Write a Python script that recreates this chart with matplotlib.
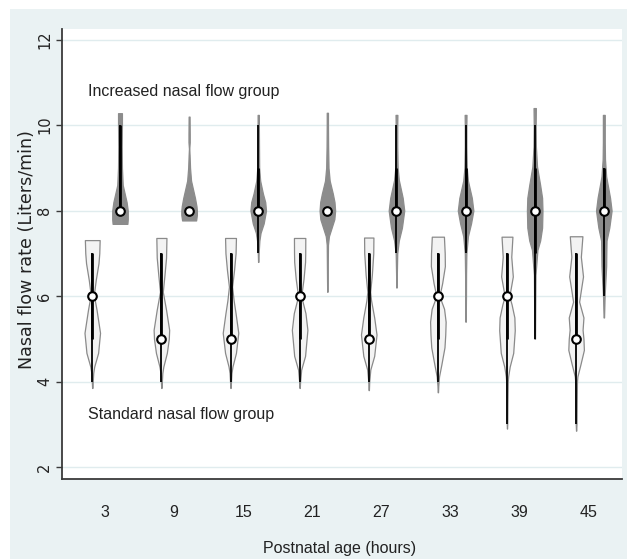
import matplotlib
matplotlib.use("Agg")
import matplotlib.pyplot as plt
from matplotlib import font_manager as fm
from matplotlib.patches import Rectangle

# ---------------- data ----------------
ages = [3, 9, 15, 21, 27, 33, 39, 45]

# Standard nasal flow group: density profiles (y level -> relative width)
std_coords = [
    [3.85, 4.0, 4.2, 4.35, 4.67, 5.14, 5.68, 6.03, 6.38, 6.77, 7.0, 7.31],
    [3.85, 4.0, 4.2, 4.35, 4.67, 5.0, 5.21, 5.68, 6.1, 6.5, 6.9, 7.36],
    [3.85, 4.0, 4.2, 4.35, 4.67, 5.14, 5.6, 5.9, 6.22, 6.6, 7.0, 7.36],
    [3.85, 4.0, 4.28, 4.6, 5.21, 5.6, 6.0, 6.4, 6.8, 7.0, 7.36],
    [3.8, 4.0, 4.28, 4.6, 5.1, 5.5, 5.9, 6.1, 6.5, 7.0, 7.37],
    [3.75, 3.9, 4.12, 4.4, 4.8, 5.1, 5.4, 5.7, 6.0, 6.3, 6.7, 7.0, 7.39],
    [2.9, 3.05, 3.5, 4.0, 4.12, 4.35, 4.67, 5.2, 5.5, 5.8, 6.0, 6.2, 6.46, 6.92, 7.39],
    [2.85, 3.03, 3.5, 4.0, 4.12, 4.4, 4.74, 5.0, 5.21, 5.5, 5.87, 6.2, 6.46, 6.92, 7.4],
]
std_dens = [
    [0.02, 0.06, 0.12, 0.25, 0.75, 1.0, 0.55, 0.2, 0.45, 0.8, 0.9, 0.95],
    [0.02, 0.06, 0.12, 0.25, 0.7, 0.95, 1.0, 0.6, 0.18, 0.4, 0.6, 0.65],
    [0.02, 0.06, 0.12, 0.25, 0.7, 1.0, 0.65, 0.4, 0.2, 0.45, 0.65, 0.7],
    [0.02, 0.06, 0.2, 0.7, 1.0, 0.75, 0.2, 0.5, 0.7, 0.72, 0.73],
    [0.02, 0.06, 0.2, 0.7, 1.0, 0.7, 0.3, 0.18, 0.4, 0.58, 0.6],
    [0.02, 0.05, 0.15, 0.45, 0.85, 0.95, 1.0, 0.8, 0.2, 0.55, 0.9, 0.88, 0.78],
    [0.01, 0.04, 0.06, 0.1, 0.15, 0.35, 0.8, 1.0, 0.95, 0.6, 0.3, 0.5, 0.75, 0.55, 0.7],
    [0.01, 0.05, 0.07, 0.1, 0.15, 0.5, 0.9, 0.85, 0.75, 0.85, 0.35, 0.6, 0.8, 0.55, 0.73],
]
std_median = [6, 5, 5, 6, 5, 6, 6, 5]
std_q1 = [5, 5, 5, 5, 5, 5, 5, 5]
std_q3 = [7, 7, 7, 7, 7, 7, 7, 7]
std_wlo = [4, 4, 4, 4, 4, 4, 3, 3]
std_whi = [7, 7, 7, 7, 7, 7, 7, 7]

# Increased nasal flow group
inc_coords = [
    [7.69, 7.8, 8.0, 8.2, 8.4, 8.6, 9.0, 9.5, 10.0, 10.28],
    [7.77, 7.9, 8.0, 8.1, 8.3, 8.5, 8.7, 9.0, 9.3, 9.45, 9.6, 9.8, 10.2],
    [6.8, 7.0, 7.3, 7.48, 7.7, 8.0, 8.2, 8.4, 8.7, 9.0, 9.5, 10.0, 10.24],
    [6.1, 6.4, 6.8, 7.2, 7.4, 7.6, 7.8, 8.0, 8.2, 8.4, 8.7, 9.0, 9.5, 10.0, 10.29],
    [6.2, 6.54, 7.0, 7.3, 7.6, 8.0, 8.3, 8.72, 9.0, 9.5, 9.96, 10.24],
    [5.4, 6.0, 6.5, 7.0, 7.4, 7.7, 8.0, 8.3, 8.7, 9.0, 9.5, 10.0, 10.24],
    [5.0, 5.5, 6.0, 6.5, 7.08, 7.3, 7.6, 8.0, 8.3, 8.6, 9.03, 9.5, 9.98, 10.4],
    [5.5, 6.0, 6.7, 7.0, 7.3, 7.6, 8.0, 8.3, 8.8, 9.2, 9.6, 10.0, 10.24],
]
inc_dens = [
    [0.95, 1.0, 1.0, 0.85, 0.6, 0.35, 0.25, 0.22, 0.25, 0.25],
    [0.9, 1.0, 1.0, 0.95, 0.75, 0.5, 0.25, 0.12, 0.06, 0.02, 0.08, 0.08, 0.06],
    [0.02, 0.05, 0.15, 0.3, 0.7, 1.0, 0.9, 0.6, 0.25, 0.12, 0.1, 0.08, 0.08],
    [0.02, 0.04, 0.06, 0.08, 0.2, 0.55, 0.9, 1.0, 0.92, 0.7, 0.3, 0.15, 0.1, 0.08, 0.08],
    [0.02, 0.05, 0.1, 0.3, 0.7, 1.0, 0.8, 0.3, 0.15, 0.1, 0.1, 0.12],
    [0.02, 0.05, 0.06, 0.1, 0.3, 0.7, 1.0, 0.8, 0.3, 0.15, 0.1, 0.1, 0.12],
    [0.04, 0.06, 0.08, 0.1, 0.35, 0.7, 0.95, 1.0, 0.95, 0.7, 0.3, 0.15, 0.12, 0.15],
    [0.03, 0.1, 0.3, 0.32, 0.35, 0.7, 1.0, 0.8, 0.3, 0.15, 0.12, 0.12, 0.12],
]
inc_median = [8, 8, 8, 8, 8, 8, 8, 8]
inc_q1 = [8, 8, 8, 8, 8, 8, 7, 8]
inc_q3 = [10, 8, 9, 8, 9, 9, 9, 9]
inc_wlo = [8, 8, 7, 8, 7, 7, 5, 6]
inc_whi = [10, 8, 10, 8, 10, 10, 10, 9]

group_labels = ["Increased nasal flow group", "Standard nasal flow group"]
xlabel = "Postnatal age (hours)"
ylabel = "Nasal flow rate (Liters/min)"
yticks = [2, 4, 6, 8, 10, 12]

# ---------------- fonts ----------------
names = {f.name for f in fm.fontManager.ttflist}
if "Liberation Sans Narrow" in names:
    hfont, hsize = "Liberation Sans Narrow", 14
else:
    hfont, hsize = "Liberation Sans", 11.5
vfont = "DejaVu Sans"

# ---------------- figure ----------------
W, H = 627, 559
fig = plt.figure(figsize=(W / 100, H / 100), dpi=100)
fig.patch.set_facecolor("white")
fig.add_artist(Rectangle((10 / W, 0), 1 - 10 / W, 1 - 9 / H, transform=fig.transFigure,
                         facecolor="#EAF2F3", edgecolor="none", zorder=-10))

ax = fig.add_axes([62 / W, 80 / H, 560 / W, 450 / H])
ax.set_facecolor("white")
ax.set_xlim(-0.622, 7.48)
ax.set_ylim(1.72, 12.25)

pos = list(range(len(ages)))
std_pos = [p - 0.184 for p in pos]
inc_pos = [p + 0.217 for p in pos]


def stats(coords, dens, med, lo, hi):
    out = []
    for c, d, m, l, h in zip(coords, dens, med, lo, hi):
        out.append(dict(coords=c, vals=d, mean=m, median=m, min=l, max=h,
                        quantiles=[]))
    return out


def draw(coords, dens, med, q1, q3, lo, hi, positions, face, edge):
    vs = stats(coords, dens, med, lo, hi)
    parts = ax.violin(vs, positions=positions, widths=0.225, showmeans=False,
                      showextrema=False, showmedians=False)
    for b in parts["bodies"]:
        b.set_facecolor(face)
        b.set_edgecolor(edge)
        b.set_linewidth(0.9)
        b.set_alpha(1)
        b.set_zorder(2)
    ax.vlines(positions, lo, hi, color="black", lw=1.3, zorder=3)
    ax.vlines(positions, q1, q3, color="black", lw=2.0, zorder=3)
    ax.plot(positions, med, "o", ms=6.2, mfc="white", mec="black", mew=1.5,
            zorder=4, linestyle="none")


draw(std_coords, std_dens, std_median, std_q1, std_q3, std_wlo, std_whi,
     std_pos, "#F3F3F3", "#8A8A8A")
draw(inc_coords, inc_dens, inc_median, inc_q1, inc_q3, inc_wlo, inc_whi,
     inc_pos, "#8C8C8C", "#8C8C8C")

# axes styling
for s in ["top", "right"]:
    ax.spines[s].set_visible(False)
for s in ["left", "bottom"]:
    ax.spines[s].set_color("#3A3A3A")
    ax.spines[s].set_linewidth(1.3)

ax.set_yticks(yticks)
ax.set_yticklabels([str(t) for t in yticks], rotation=90, va="center",
                   fontfamily=vfont, fontsize=10.5, color="#222222")
ax.yaxis.grid(True, color="#E0ECEE", lw=1.0)
ax.set_axisbelow(True)
ax.tick_params(axis="y", length=4, width=1.0, color="#3A3A3A", pad=3)

ax.set_xticks(pos)
ax.set_xticklabels([str(a) for a in ages], fontfamily=hfont, fontsize=hsize,
                   color="#222222")
ax.tick_params(axis="x", length=0, pad=19)

ax.text(-0.246, 10.78, group_labels[0], fontfamily=hfont, fontsize=hsize,
        va="center", ha="left", color="#222222")
ax.text(-0.246, 3.22, group_labels[1], fontfamily=hfont, fontsize=hsize,
        va="center", ha="left", color="#222222")

fig.text(340 / W, 1 - 548 / H, xlabel, fontfamily=hfont, fontsize=hsize,
         ha="center", va="center", color="#222222")
fig.text(27 / W, 1 - 250 / H, ylabel, fontfamily=vfont, fontsize=12.6,
         rotation=90, ha="center", va="center", color="#222222")

fig.savefig("out.png", dpi=100)
